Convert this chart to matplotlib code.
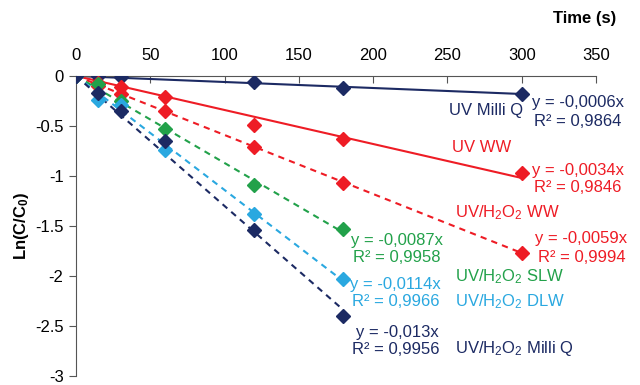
import matplotlib
matplotlib.use('Agg')
import matplotlib.pyplot as plt

plt.rcParams['font.family'] = ['Liberation Sans', 'DejaVu Sans']
plt.rcParams['mathtext.fontset'] = 'custom'
plt.rcParams['mathtext.rm'] = 'Liberation Sans'
plt.rcParams['mathtext.it'] = 'Liberation Sans:italic'
plt.rcParams['mathtext.bf'] = 'Liberation Sans:bold'

# time points (s)
t_long = [0, 15, 30, 60, 120, 180, 300]
t_short = [0, 15, 30, 60, 120, 180]

# measured Ln(C/C0)
uv_mq = [0, 0, -0.01, None, -0.06, -0.12, -0.18]
uv_ww = [0, -0.07, -0.11, -0.21, -0.49, -0.63, -0.97]
h2o2_ww = [0, -0.1, -0.18, -0.35, -0.71, -1.07, -1.77]
h2o2_slw = [0, -0.08, -0.25, -0.53, -1.09, -1.53]
h2o2_dlw = [0, -0.24, -0.29, -0.74, -1.38, -2.03]
h2o2_mq = [0, -0.17, -0.35, -0.65, -1.54, -2.40]

# fitted slopes (trendline through origin)
slopes = [-0.0006, -0.0034, -0.0059, -0.0087, -0.0114, -0.013]
r2 = ['0,9864', '0,9846', '0,9994', '0,9958', '0,9966', '0,9956']

NAVY = '#1c2a63'
RED = '#ee1c25'
GREEN = '#22a14a'
LBLUE = '#2aa8e0'

series = [
    (t_long, uv_mq, NAVY, '-'),
    (t_long, uv_ww, RED, '-'),
    (t_long, h2o2_ww, RED, '--'),
    (t_short, h2o2_slw, GREEN, '--'),
    (t_short, h2o2_dlw, LBLUE, '--'),
    (t_short, h2o2_mq, NAVY, '--'),
]

fig = plt.figure(figsize=(6.4, 3.85), dpi=100)
ax = fig.add_axes([76 / 640, 1 - 376 / 385, 520 / 640, 300 / 385])

for (t, vals, col, ls), k in zip(series, slopes):
    tmax = t[-1]
    ax.plot([0, tmax], [0, k * tmax], color=col, lw=1.5, ls=ls,
            dashes=(3, 2.5) if ls == '--' else (None, None), zorder=2)
for t, vals, col, ls in series:
    pts = [(a, b) for a, b in zip(t, vals) if b is not None]
    ax.plot([p[0] for p in pts], [p[1] for p in pts], ls='none', marker='D',
            ms=7, color=col, mec=col, zorder=3)

ax.set_xlim(0, 350)
ax.set_ylim(-3, 0)
ax.set_xticks(range(0, 351, 50))
ax.set_yticks([0, -0.5, -1, -1.5, -2, -2.5, -3])
ax.set_yticklabels(['0', '-0.5', '-1', '-1.5', '-2', '-2.5', '-3'])
ax.xaxis.tick_top()
ax.tick_params(axis='x', direction='in', length=5, labelsize=12, color='#555555', pad=9)
ax.tick_params(axis='y', direction='out', length=5, labelsize=12, color='#555555', pad=4)
ax.spines['right'].set_visible(False)
ax.spines['bottom'].set_visible(False)
for s in ('top', 'left'):
    ax.spines[s].set_color('#555555')
ax.set_ylabel('Ln(C/C$_\\mathbf{0}$)', fontsize=12, fontweight='bold', labelpad=2.5)
fig.text(585 / 640, 1 - 18 / 385, 'Time (s)', fontsize=12, fontweight='bold',
         ha='center', va='center')


def label(x, y, s, col, ha='center'):
    fig.text(x / 640, 1 - y / 385, s, color=col, fontsize=12, ha=ha, va='center')


label(523, 110, 'UV Milli Q', NAVY, ha='right')
label(578, 103, 'y = %sx' % str(slopes[0]).replace('.', ','), NAVY)
label(578, 122, 'R² = ' + r2[0], NAVY)

label(482, 148, 'UV WW', RED)
label(578, 171, 'y = %sx' % str(slopes[1]).replace('.', ','), RED)
label(578, 188, 'R² = ' + r2[1], RED)

label(455, 213, 'UV/H$_2$O$_2$ WW', RED, ha='left')
label(581, 238, 'y = %sx' % str(slopes[2]).replace('.', ','), RED)
label(582, 257, 'R² = ' + r2[2], RED)

label(397, 240, 'y = %sx' % str(slopes[3]).replace('.', ','), GREEN)
label(397, 258, 'R² = ' + r2[3], GREEN)
label(455, 277, 'UV/H$_2$O$_2$ SLW', GREEN, ha='left')

label(395, 284, 'y = %sx' % str(slopes[4]).replace('.', ','), LBLUE)
label(396, 302, 'R² = ' + r2[4], LBLUE)
label(455, 302, 'UV/H$_2$O$_2$ DLW', LBLUE, ha='left')

label(397, 332, 'y = %sx' % str(slopes[5]).replace('.', ','), NAVY)
label(396, 349, 'R² = ' + r2[5], NAVY)
label(455, 349, 'UV/H$_2$O$_2$ Milli Q', NAVY, ha='left')

fig.savefig('out.png', dpi=100)
